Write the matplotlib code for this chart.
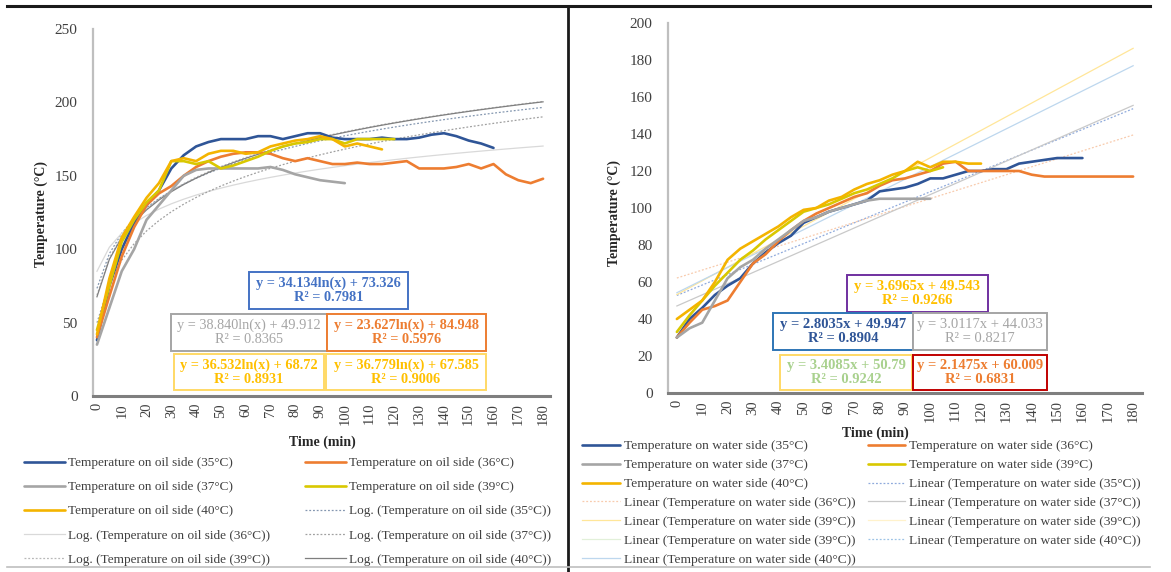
"""Oil side / water side temperature curves with Excel-style trendlines."""

import numpy as np
import matplotlib.pyplot as plt
from matplotlib.lines import Line2D
from matplotlib.patches import Rectangle

W, H = 1171, 572
STEP = 5  # minutes between readings
TICKS = list(range(0, 181, 10))

# ---- oil side readings (every 5 min) ----
OIL_35 = [38, 75, 100, 118, 130, 140, 155, 164, 170, 173, 175, 175, 175, 177, 177, 175, 177,
          179, 179, 176, 175, 175, 175, 176, 175, 175, 176, 178, 179, 177, 174, 172, 169]
OIL_36 = [40, 68, 95, 115, 130, 138, 143, 150, 156, 160, 163, 165, 166, 166, 165, 162, 160,
          162, 160, 158, 158, 159, 158, 158, 159, 160, 155, 155, 155, 156, 158, 155, 158,
          151, 147, 145, 148]
OIL_37 = [35, 60, 85, 100, 120, 130, 140, 150, 154, 155, 155, 155, 155, 155, 156, 154, 151,
          149, 147, 146, 145]
OIL_39 = [45, 75, 105, 120, 132, 140, 160, 160, 158, 160, 155, 157, 160, 163, 167, 170, 172,
          173, 175, 175, 172, 175, 175, 175, 175]
OIL_40 = [42, 80, 108, 122, 135, 145, 160, 162, 160, 165, 167, 167, 165, 166, 170, 172, 174,
          175, 177, 175, 170, 172, 170, 168]

# ---- water side readings (every 5 min) ----
WAT_35 = [30, 40, 46, 53, 58, 62, 70, 76, 81, 85, 92, 95, 98, 100, 102, 104, 109, 110, 111,
          113, 116, 116, 118, 120, 120, 121, 121, 124, 125, 126, 127, 127, 127]
WAT_36 = [30, 38, 45, 47, 50, 60, 70, 75, 82, 88, 93, 97, 100, 103, 106, 108, 112, 115, 116,
          118, 120, 124, 125, 120, 120, 120, 120, 120, 118, 117, 117, 117, 117, 117, 117, 117, 117]
WAT_37 = [30, 35, 38, 50, 62, 68, 72, 78, 83, 88, 93, 95, 98, 100, 102, 104, 105, 105, 105,
          105, 105]
WAT_39 = [33, 42, 50, 58, 65, 72, 77, 83, 88, 93, 98, 100, 102, 105, 108, 110, 113, 116, 120,
          122, 120, 122]
WAT_40 = [40, 45, 50, 60, 72, 78, 82, 86, 90, 95, 99, 100, 104, 106, 110, 113, 115, 118, 120,
          125, 122, 125, 125, 124, 124]

# ---- trendline coefficients as printed on the chart (x = reading index) ----
LOG_A = {"35": 34.134, "36": 23.627, "37": 38.840, "39": 36.532, "40": 36.779}
LOG_B = {"35": 73.326, "36": 84.948, "37": 49.912, "39": 68.72, "40": 67.585}
LOG_R2 = {"35": 0.7981, "36": 0.5976, "37": 0.8365, "39": 0.8931, "40": 0.9006}
LIN_A = {"35": 2.8035, "36": 2.1475, "37": 3.0117, "39": 3.6965, "40": 3.4085}
LIN_B = {"35": 49.947, "36": 60.009, "37": 44.033, "39": 49.543, "40": 50.79}
LIN_R2 = {"35": 0.8904, "36": 0.6831, "37": 0.8217, "39": 0.9266, "40": 0.9242}

COLOR = {"35": "#2F5597", "36": "#ED7D31", "37": "#A5A5A5", "39": "#D9C800", "40": "#F4B400"}
SERIF = ["Liberation Serif", "DejaVu Serif"]
plt.rcParams["font.family"] = SERIF


def fx(px):
    return px / W


def fy(py):
    return 1 - py / H


def times(vals):
    return np.arange(len(vals)) * STEP


def add_axes(x0, x1, y_top, y_bot):
    ax = fig.add_axes([fx(x0), fy(y_bot), (x1 - x0) / W, (y_bot - y_top) / H])
    for s in ("top", "right"):
        ax.spines[s].set_visible(False)
    ax.spines["left"].set_color("#BFBFBF")
    ax.spines["left"].set_linewidth(1.6)
    ax.spines["bottom"].set_color("#7F7F7F")
    ax.spines["bottom"].set_linewidth(2.2)
    ax.set_xticks(TICKS)
    ax.set_xticklabels([str(t) for t in TICKS], rotation=90)
    ax.tick_params(axis="x", length=0, pad=5, labelsize=10.5, colors="#404040")
    ax.tick_params(axis="y", length=0, pad=11, labelsize=11, colors="#404040")
    return ax


def eq_box(x0, x1, y0, y1, text, tcolor, ecolor, bold=True, size=10.3):
    fig.add_artist(Rectangle((fx(x0), fy(y1)), (x1 - x0) / W, (y1 - y0) / H,
                             transform=fig.transFigure, facecolor="white",
                             edgecolor=ecolor, linewidth=1.4, zorder=5))
    fig.text(fx((x0 + x1) / 2), fy((y0 + y1) / 2), text, ha="center", va="center",
             fontsize=size, color=tcolor, fontweight="bold" if bold else "normal",
             linespacing=1.1, zorder=6)


def row_major(handles):
    n = len(handles)
    order = list(range(0, n, 2)) + list(range(1, n, 2))
    hs = [handles[i] for i in order]
    return hs, [h.get_label() for h in hs]


fig = plt.figure(figsize=(W / 100, H / 100), dpi=100)

# ================= left panel: oil side =================
ax1 = add_axes(93, 550, 29, 396)
ax1.set_xlim(-1.6, 182.8)
ax1.set_ylim(0, 250)
ax1.set_yticks(range(0, 251, 50))

idx = np.arange(1, 38)
t_full = (idx - 1) * STEP
trend_style = {
    "35": dict(color="#8497B0", linestyle=(0, (1.5, 1.5))),
    "36": dict(color="#D9D9D9", linestyle="-"),
    "37": dict(color="#A0A0A0", linestyle=(0, (1.5, 1.5))),
    "39": dict(color="#B8B8B8", linestyle=(0, (1.5, 1.5))),
    "40": dict(color="#7F7F7F", linestyle="-"),
}
oil = {"35": OIL_35, "36": OIL_36, "37": OIL_37, "39": OIL_39, "40": OIL_40}
h_data, h_trend = [], []
for k, vals in oil.items():
    (ln,) = ax1.plot(times(vals), vals, color=COLOR[k], lw=1.9, solid_capstyle="round",
                     label=f"Temperature on oil side ({k}°C)", zorder=3)
    h_data.append(ln)
for k in oil:
    (ln,) = ax1.plot(t_full, LOG_A[k] * np.log(idx) + LOG_B[k], lw=0.9, zorder=2,
                     label=f"Log. (Temperature on oil side ({k}°C))", **trend_style[k])
    h_trend.append(ln)
hs, ls = row_major(h_data + h_trend)
fig.legend(hs, ls, loc="upper left", bbox_to_anchor=(fx(24), fy(457)), ncol=2,
           frameon=False, fontsize=9.5, borderpad=0, borderaxespad=0, handlelength=3.1,
           handletextpad=0.2, columnspacing=2.7, labelspacing=0.9, labelcolor="#404040")

fig.text(fx(41), fy(214), "Temperature (°C)", rotation=90, ha="center", va="center",
         fontsize=10, fontweight="bold", color="#262626")
fig.text(fx(322), fy(442), "Time (min)", ha="center", va="center",
         fontsize=10, fontweight="bold", color="#262626")


def log_text(k):
    return f"y = {LOG_A[k]:.3f}ln(x) + {LOG_B[k]:g}\nR² = {LOG_R2[k]:g}"


eq_box(249, 408, 272, 309, log_text("35"), "#4472C4", "#4472C4")
eq_box(171, 327, 314, 351, log_text("37"), "#A5A5A5", "#A5A5A5", bold=False)
eq_box(327, 486, 314, 351, log_text("36"), "#ED7D31", "#ED7D31")
eq_box(174, 324, 354, 390, log_text("39"), "#FFC000", "#FFD966")
eq_box(326, 486, 354, 390, log_text("40"), "#FFC000", "#FFD966")

# ================= right panel: water side =================
ax2 = add_axes(668, 1142, 23, 393)
ax2.set_xlim(-3.5, 183.5)
ax2.set_ylim(0, 200)
ax2.set_yticks(range(0, 201, 20))

lin_style = {
    "35": dict(color="#8FAADC", linestyle=(0, (1.5, 1.5))),
    "36": dict(color="#F8CBAD", linestyle=(0, (1.5, 1.5))),
    "37": dict(color="#C9C9C9", linestyle="-"),
    "39": dict(color="#FFE699", linestyle="-"),
    "40": dict(color="#BDD7EE", linestyle="-"),
}
water = {"35": WAT_35, "36": WAT_36, "37": WAT_37, "39": WAT_39, "40": WAT_40}
h_data, h_trend = [], {}
for k, vals in water.items():
    (ln,) = ax2.plot(times(vals), vals, color=COLOR[k], lw=1.9, solid_capstyle="round",
                     label=f"Temperature on water side ({k}°C)", zorder=3)
    h_data.append(ln)
for k in water:
    (ln,) = ax2.plot(t_full, LIN_A[k] * idx + LIN_B[k], lw=0.9, zorder=2,
                     label=f"Linear (Temperature on water side ({k}°C))", **lin_style[k])
    h_trend[k] = ln


def dup_entry(k, color, style):
    # the source chart lists some trendline entries more than once
    return Line2D([], [], color=color, lw=0.9, linestyle=style,
                  label=f"Linear (Temperature on water side ({k}°C))")


legend_trend = [h_trend["35"], h_trend["36"], h_trend["37"], h_trend["39"],
                dup_entry("39", "#FFF2CC", "-"), dup_entry("39", "#E2F0D9", "-"),
                dup_entry("40", "#9DC3E6", (0, (1.5, 1.5))), h_trend["40"]]
hs, ls = row_major(h_data + legend_trend)
fig.legend(hs, ls, loc="upper left", bbox_to_anchor=(fx(582), fy(440)), ncol=2,
           frameon=False, fontsize=9.7, borderpad=0, borderaxespad=0, handlelength=2.8,
           handletextpad=0.3, columnspacing=0.9, labelspacing=0.48, labelcolor="#404040")

fig.text(fx(614), fy(213), "Temperature (°C)", rotation=90, ha="center", va="center",
         fontsize=10, fontweight="bold", color="#262626")
fig.text(fx(875), fy(433), "Time (min)", ha="center", va="center",
         fontsize=10, fontweight="bold", color="#262626")


def lin_text(k):
    return f"y = {LIN_A[k]:g}x + {LIN_B[k]:g}\nR² = {LIN_R2[k]:g}"


eq_box(847, 988, 275, 312, lin_text("39"), "#FFC000", "#7030A0", size=10.5)
eq_box(773, 913, 313, 350, lin_text("35"), "#2F5597", "#2E75B6", size=10.5)
eq_box(913, 1047, 313, 350, lin_text("37"), "#A5A5A5", "#A5A5A5", bold=False, size=10.5)
eq_box(780, 912, 355, 390, lin_text("40"), "#A9D18E", "#FFD966", size=10.5)
eq_box(913, 1047, 355, 390, lin_text("36"), "#ED7D31", "#C00000", size=10.5)

# ---- panel frame lines ----
fig.add_artist(Line2D([fx(7), fx(1150)], [fy(6), fy(6)], transform=fig.transFigure,
                      color="#1A1A1A", lw=2.2))
fig.add_artist(Line2D([fx(568), fx(568)], [fy(6), fy(572)], transform=fig.transFigure,
                      color="#1A1A1A", lw=2.0))
fig.add_artist(Line2D([fx(7), fx(1150)], [fy(567), fy(567)], transform=fig.transFigure,
                      color="#BFBFBF", lw=1.2))

fig.savefig("out.png", dpi=100)
